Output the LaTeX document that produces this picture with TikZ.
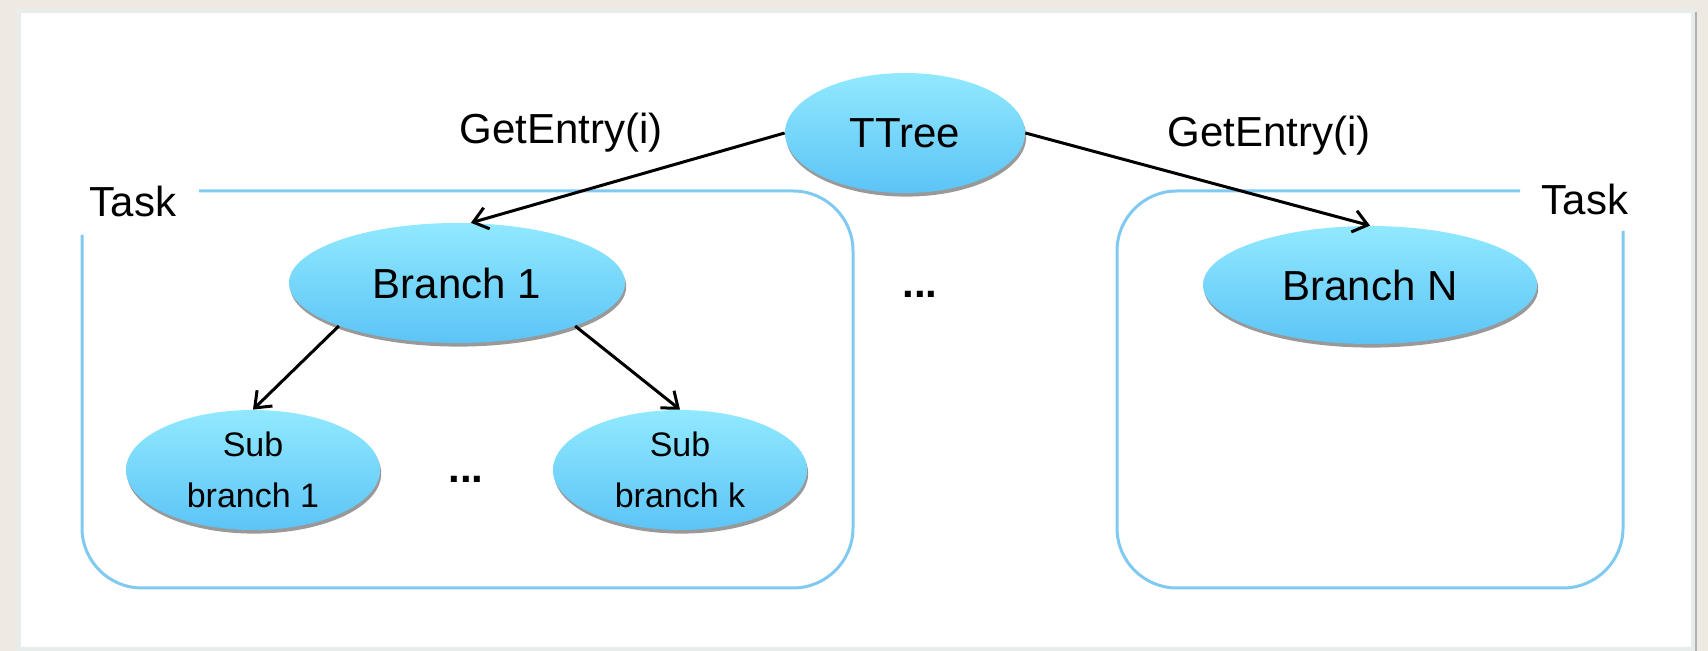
\documentclass[tikz,border=0pt]{standalone}
\usepackage{fontspec}
\setmainfont{Liberation Sans}
\usetikzlibrary{arrows.meta, shapes.geometric, shadows, positioning}
\definecolor{bgbeige}{RGB}{238,233,226}
\definecolor{panelrim}{RGB}{230,237,234}
\definecolor{taskblue}{RGB}{128,202,242}
\definecolor{nodetop}{RGB}{145,233,255}
\definecolor{nodebot}{RGB}{92,196,246}
\begin{document}
\begin{tikzpicture}[x=0.5pt, y=-0.5pt,
  bigfont/.style={font=\fontsize{21}{25}\selectfont},
  smallfont/.style={font=\fontsize{17}{25.5}\selectfont},
  dotsfont/.style={font=\fontsize{21}{25}\selectfont\bfseries},
  bubble/.style={ellipse, inner sep=0pt, top color=nodetop, bottom color=nodebot,
    drop shadow={shadow xshift=0.6pt, shadow yshift=-1.8pt, opacity=0.4, fill=black}},
  taskline/.style={draw=taskblue, line width=1.5pt, rounded corners=30pt},
  link/.style={draw=black, line width=1.5pt, -{Straight Barb[length=7pt, width=11pt]}}]
\tikzstyle{every node}+=[inner sep=0pt]
\useasboundingbox (0,0) rectangle (1708,651);
\fill [bgbeige] (0,0) rectangle (1708,651);
\draw [black!30, line width=1.5pt] (1695,12) -- (1695,651);
\draw [panelrim, line width=2pt, fill=white] (19,11) rectangle (1693,649);
\draw [taskline] (199,191) -- (853,191) -- (853,588) -- (82,588) -- (82,235);
\draw [taskline] (1520,191) -- (1117,191) -- (1117,588) -- (1623,588) -- (1623,231);
\node [bigfont] (taskleft) at (133,201) {Task};
\node [bigfont] (taskright) at (1585,199) {Task};
\node [bubble, bigfont, minimum width=120pt, minimum height=60pt] (ttree) at (905,133) {TTree};
\node [bubble, bigfont, minimum width=168pt, minimum height=60pt] (branch1) at (457,283) {Branch 1};
\node [bubble, bigfont, minimum width=167pt, minimum height=59pt] (branchN) at (1370,285) {Branch N};
\node [bubble, smallfont, align=center, minimum width=127pt, minimum height=60pt] (sub1) at (253,470) {Sub\\branch 1};
\node [bubble, smallfont, align=center, minimum width=127pt, minimum height=60pt] (subk) at (680,470) {Sub\\branch k};
\node [bigfont] (getleft) at (561,133) {GetEntry(i)};
\node [bigfont] (getright) at (1269,136) {GetEntry(i)};
\node [dotsfont] (middots) at (920,294) {...};
\node [dotsfont] (subdots) at (466,479) {...};
\draw [link] (ttree.west) -- (branch1.77);
\draw [link] (ttree.east) -- (branchN.north);
\draw [link] (branch1.200) -- (sub1.north);
\draw [link] (branch1.340) -- (subk.north);
\end{tikzpicture}
\end{document}
